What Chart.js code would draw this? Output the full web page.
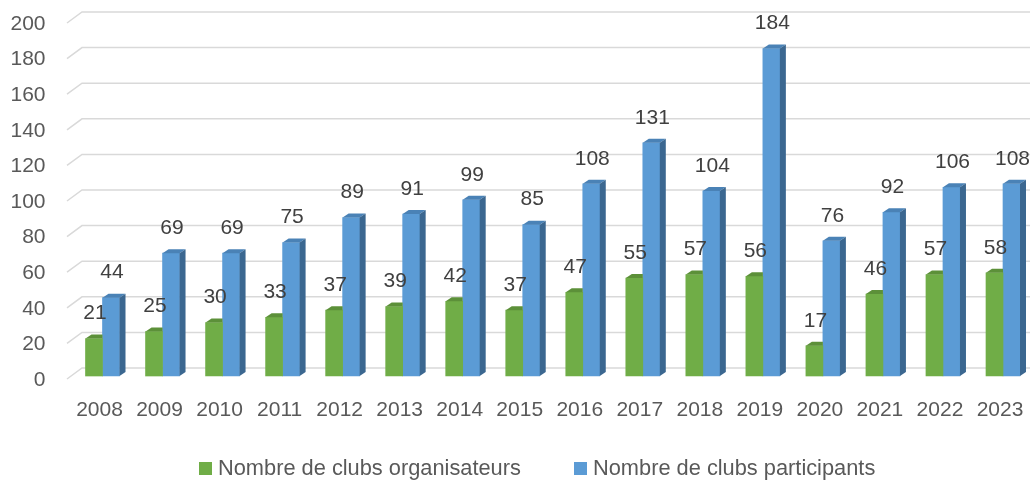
<!DOCTYPE html>
<html lang="fr">
<head>
    <meta charset="UTF-8">
    <title>Clubs organisateurs et participants</title>
    <script src="https://cdn.jsdelivr.net/npm/chart.js"></script>
    <style>
        html, body { margin: 0; padding: 0; background: #fff; }
        #wrap { width: 1030px; height: 480px; }
    </style>
</head>
<body>
    <div id="wrap"><canvas id="chartClubs"></canvas></div>

    <script>
        // données
        const years = ['2008', '2009', '2010', '2011', '2012', '2013', '2014', '2015',
                       '2016', '2017', '2018', '2019', '2020', '2021', '2022', '2023'];
        const organisateurs = [21, 25, 30, 33, 37, 39, 42, 37, 47, 55, 57, 56, 17, 46, 57, 58];
        const participants = [44, 69, 69, 75, 89, 91, 99, 85, 108, 131, 104, 184, 76, 92, 106, 108];
        const seriesNames = ['Nombre de clubs organisateurs', 'Nombre de clubs participants'];

        const FONT = '"Liberation Sans", Arial, sans-serif';
        const DX = 6, DY = 4; // profondeur de l'effet 3D

        const shades = [
            { front: '#70AD47', side: '#4E7A31', top: '#5C9039' },
            { front: '#5B9BD5', side: '#3B6790', top: '#4A82B6' }
        ];

        // quadrillage avec petit retour en perspective à gauche
        const floorGrid = {
            id: 'floorGrid',
            beforeDatasetsDraw(chart) {
                const ctx = chart.ctx, y = chart.scales.y;
                ctx.save();
                ctx.strokeStyle = '#d9d9d9';
                ctx.lineWidth = 1.5;
                y.ticks.forEach(t => {
                    const py = y.getPixelForValue(t.value);
                    ctx.beginPath();
                    ctx.moveTo(67, py + 3);
                    ctx.lineTo(82, py - 8);
                    ctx.lineTo(chart.width, py - 8);
                    ctx.stroke();
                });
                ctx.restore();
            }
        };

        // faces du dessus et de côté des colonnes
        const bars3d = {
            id: 'bars3d',
            afterDatasetDraw(chart, args) {
                const ctx = chart.ctx;
                const s = shades[args.index];
                ctx.save();
                args.meta.data.forEach(bar => {
                    const p = bar.getProps(['x', 'y', 'base', 'width'], true);
                    const l = p.x - p.width / 2, r = p.x + p.width / 2;
                    ctx.fillStyle = s.top;
                    ctx.beginPath();
                    ctx.moveTo(l, p.y);
                    ctx.lineTo(l + DX, p.y - DY);
                    if (args.index === 1) {
                        ctx.lineTo(r + DX, p.y - DY);
                    } else {
                        ctx.lineTo(r, p.y - DY); // caché derrière la colonne bleue
                    }
                    ctx.lineTo(r, p.y);
                    ctx.closePath();
                    ctx.fill();
                    if (args.index === 1) {
                        ctx.fillStyle = s.side;
                        ctx.beginPath();
                        ctx.moveTo(r, p.y);
                        ctx.lineTo(r + DX, p.y - DY);
                        ctx.lineTo(r + DX, p.base - DY);
                        ctx.lineTo(r, p.base);
                        ctx.closePath();
                        ctx.fill();
                    }
                });
                ctx.restore();
            }
        };

        // étiquettes de valeurs + légende
        const labelsAndLegend = {
            id: 'labelsAndLegend',
            afterDatasetsDraw(chart) {
                const ctx = chart.ctx;
                ctx.save();
                ctx.font = '21px ' + FONT;
                ctx.fillStyle = '#404040';
                ctx.textAlign = 'center';
                ctx.textBaseline = 'middle';
                chart.data.datasets.forEach((ds, i) => {
                    chart.getDatasetMeta(i).data.forEach((bar, j) => {
                        ctx.fillText(ds.data[j], bar.x + 1, bar.y - 25);
                    });
                });

                const legendX = [199, 574];
                ctx.font = '21.8px ' + FONT;
                ctx.textAlign = 'left';
                seriesNames.forEach((name, i) => {
                    ctx.fillStyle = shades[i].front;
                    ctx.fillRect(legendX[i], 462, 13, 13);
                    ctx.fillStyle = '#595959';
                    ctx.fillText(name, legendX[i] + 19, 469);
                });
                ctx.restore();
            }
        };

        new Chart(document.getElementById('chartClubs'), {
            type: 'bar',
            data: {
                labels: years,
                datasets: [
                    { label: seriesNames[0], data: organisateurs, backgroundColor: shades[0].front, clip: false },
                    { label: seriesNames[1], data: participants, backgroundColor: shades[1].front, clip: false }
                ]
            },
            options: {
                responsive: true,
                maintainAspectRatio: false,
                animation: false,
                barThickness: 17,
                layout: { padding: { top: 20, left: 10, right: 27, bottom: 0 } },
                plugins: {
                    legend: { display: false },
                    tooltip: { enabled: false }
                },
                scales: {
                    x: {
                        offset: false,
                        grid: { display: false, drawTicks: false },
                        border: { display: false },
                        ticks: {
                            color: '#595959',
                            font: { size: 21, family: FONT },
                            padding: 22,
                            labelOffset: -3,
                            maxRotation: 0,
                            autoSkip: false
                        },
                        afterFit: s => {
                            s.height = 104;
                            s.paddingLeft = 0;
                            s.paddingRight = 0;
                        }
                    },
                    y: {
                        min: 0,
                        max: 200,
                        grid: { display: false, drawTicks: false },
                        border: { display: false },
                        ticks: {
                            stepSize: 20,
                            color: '#595959',
                            font: { size: 21, family: FONT },
                            padding: 57,
                            labelOffset: 4
                        },
                        afterFit: s => {
                            s.width = 92.5;
                            s.paddingTop = 0;
                            s.paddingBottom = 0;
                        }
                    }
                }
            },
            plugins: [floorGrid, bars3d, labelsAndLegend]
        });
    </script>
</body>
</html>
